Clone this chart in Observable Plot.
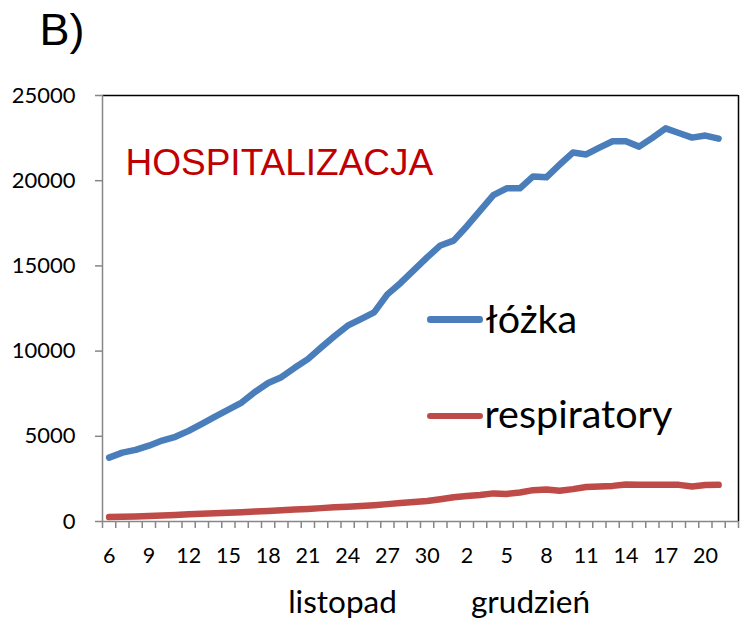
<!DOCTYPE html>
<html>
<head>
<meta charset="utf-8">
<script src="https://cdn.jsdelivr.net/npm/d3@7"></script>
<script src="https://cdn.jsdelivr.net/npm/@observablehq/plot@0.6"></script>
<style>
  html, body { margin: 0; padding: 0; background: #fff; }
  #wrap { position: relative; width: 750px; height: 636px; }
  .sw { position: absolute; height: 6.5px; border-radius: 3.25px; }
</style>
</head>
<body>
<div id="wrap"></div>
<script>
// Day-of-month tick labels (every 3rd day), Nov 6 ... Dec 20
const tickLabels = ["6","9","12","15","18","21","24","27","30","2","5","8","11","14","17","20"];
const tickStep = 3;
const slotCount = 48; // category slots on the axis (last one empty)

// Hospital beds occupied ("łóżka"), daily, Nov 6 – Dec 21
const lozka = [3750, 4040, 4200, 4450, 4750, 4970, 5320, 5730, 6160, 6560,
  6980, 7600, 8130, 8470, 9020, 9530, 10210, 10870, 11490, 11880,
  12270, 13330, 14000, 14750, 15500, 16200, 16480, 17330, 18240, 19150,
  19550, 19550, 20250, 20200, 20940, 21650, 21540, 21940, 22315, 22315,
  22000, 22515, 23070, 22800, 22530, 22650, 22470];

// Ventilators occupied ("respiratory")
const respiratory = [260, 280, 300, 320, 350, 385, 420, 450, 485, 520,
  550, 585, 620, 660, 700, 740, 785, 830, 870, 915,
  960, 1020, 1080, 1140, 1200, 1310, 1420, 1490, 1560, 1650,
  1620, 1700, 1840, 1880, 1800, 1900, 2020, 2050, 2090, 2170,
  2160, 2150, 2150, 2150, 2060, 2140, 2150];

const yTicks = [0, 5000, 10000, 15000, 20000, 25000];
const seriesNames = ["łóżka", "respiratory"];
const seriesColors = ["#4A7EBB", "#BE4B48"];

const tickIdx = tickLabels.map((_, i) => i * tickStep);
const boundaries = d3.range(slotCount + 1).map(i => i - 0.5);
const gray = "#868686";
const calib = "Lato, 'Noto Sans', sans-serif";
const arial = "'Liberation Sans', Arial, sans-serif";

const chart = Plot.plot({
  width: 750,
  height: 636,
  marginLeft: 102,
  marginRight: 12,
  marginTop: 95,
  marginBottom: 115,
  style: { fontFamily: calib, background: "white", overflow: "visible" },
  x: { type: "linear", domain: [-0.5, slotCount - 0.5], axis: null },
  y: { domain: [0, 25000], axis: null },
  marks: [
    // frame: top & right black, left & bottom gray axes
    Plot.ruleY([25000], { stroke: "black", strokeWidth: 1.5 }),
    Plot.ruleX([slotCount - 0.5], { stroke: "black", strokeWidth: 1.5 }),
    Plot.ruleX([-0.5], { stroke: gray, strokeWidth: 1.5 }),
    Plot.ruleY([0], { stroke: gray, strokeWidth: 1.5 }),
    Plot.axisY({ ticks: yTicks, tickSize: 7, tickPadding: 20, fontSize: 22,
      stroke: gray, strokeWidth: 1.5, fill: "black", tickFormat: d => String(d) }),
    Plot.axisX({ ticks: boundaries, tickSize: 7, tickFormat: () => "",
      stroke: gray, strokeWidth: 1.5 }),
    Plot.axisX({ ticks: tickIdx, tickSize: 0, tickPadding: 26, fontSize: 21.5, fill: "black",
      tickFormat: d => tickLabels[Math.round(d / tickStep)] }),
    // data lines
    Plot.lineY(respiratory, { x: (d, i) => i, y: d => d, stroke: seriesColors[1],
      strokeWidth: 6.5, strokeLinecap: "round", strokeLinejoin: "round" }),
    Plot.lineY(lozka, { x: (d, i) => i, y: d => d, stroke: seriesColors[0],
      strokeWidth: 6.5, strokeLinecap: "round", strokeLinejoin: "round" }),
    // annotations
    Plot.text(["B)"], { frameAnchor: "top-left", dx: -63, dy: -51, textAnchor: "start",
      lineAnchor: "bottom", fontSize: 45, fontFamily: arial, fill: "black" }),
    Plot.text(["HOSPITALIZACJA"], { frameAnchor: "top-left", dx: 23, dy: 79, textAnchor: "start",
      lineAnchor: "bottom", fontSize: 37, fontFamily: arial, fill: "#C00000" }),
    Plot.text([seriesNames[0]], { frameAnchor: "top-left", dx: 383, dy: 237, textAnchor: "start",
      lineAnchor: "bottom", fontSize: 39.5, fill: "black" }),
    Plot.text([seriesNames[1]], { frameAnchor: "top-left", dx: 382, dy: 332, textAnchor: "start",
      lineAnchor: "bottom", fontSize: 39.5, fill: "black" }),
    Plot.text(["listopad"], { frameAnchor: "top-left", dx: 240, dy: 517, textAnchor: "middle",
      lineAnchor: "bottom", fontSize: 31.5, fill: "black" }),
    Plot.text(["grudzień"], { frameAnchor: "top-left", dx: 428, dy: 517, textAnchor: "middle",
      lineAnchor: "bottom", fontSize: 31.5, fill: "black" })
  ]
});

const wrap = document.getElementById("wrap");
wrap.appendChild(chart);
chart.style.position = "absolute";
chart.style.left = "0px";
chart.style.top = "0px";

// legend swatches (line segments)
[[316, seriesColors[0]], [412.8, seriesColors[1]]].forEach(([top, c]) => {
  const s = document.createElement("div");
  s.className = "sw";
  s.style.left = "427px";
  s.style.top = top + "px";
  s.style.width = "56px";
  s.style.background = c;
  wrap.appendChild(s);
});
</script>
</body>
</html>
